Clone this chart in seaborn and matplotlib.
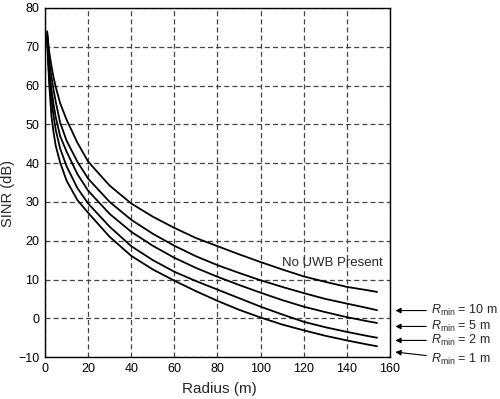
import numpy as np
import pandas as pd
import matplotlib
matplotlib.use("Agg")
import matplotlib.pyplot as plt
import seaborn as sns

# ==========================================
# Data
# ==========================================
radius = [1, 1.5, 2, 3, 4, 5, 7, 10, 15, 20, 30, 40, 50, 60, 70, 80, 90, 100,
          110, 120, 130, 140, 150, 154]

sinr_no_uwb = [74.0, 71.0, 68.5, 65.0, 62.0, 59.6, 55.5, 51.2, 45.3, 40.4, 34.2, 29.6,
               26.2, 23.3, 20.7, 18.6, 16.5, 14.5, 12.6, 10.8, 9.4, 8.1, 7.2, 6.8]
sinr_rmin_10 = [73.5, 69.5, 66.0, 62.2, 58.8, 55.8, 50.5, 45.8, 40.4, 36.0, 30.0, 25.4,
                21.8, 18.7, 16.0, 13.7, 11.7, 9.8, 8.1, 6.5, 5.0, 3.8, 2.6, 2.1]
sinr_rmin_5 = [73.0, 68.0, 63.5, 59.0, 55.0, 51.8, 47.0, 43.0, 37.2, 32.9, 26.9, 22.3,
               18.7, 15.6, 13.0, 10.7, 8.6, 6.6, 4.7, 3.0, 1.6, 0.3, -0.8, -1.2]
sinr_rmin_2 = [72.5, 66.5, 61.5, 56.5, 52.0, 48.5, 43.8, 39.2, 33.6, 29.6, 23.6, 18.6,
               15.0, 12.0, 9.6, 7.4, 5.2, 3.0, 1.0, -0.9, -2.3, -3.5, -4.6, -5.0]
sinr_rmin_1 = [72.0, 65.5, 60.0, 52.0, 47.8, 44.4, 40.2, 35.5, 30.5, 27.2, 21.0, 16.1,
               12.6, 9.7, 7.0, 4.5, 2.2, 0.2, -1.6, -3.1, -4.5, -5.7, -6.8, -7.2]

series_names = ["none", "10", "5", "2", "1"]
rmin_labels = ["10", "5", "2", "1"]
x_ticks = list(range(0, 161, 20))
y_ticks = list(range(-10, 81, 10))

df = pd.concat([
    pd.DataFrame({"Radius": radius, "SINR": vals, "case": name})
    for name, vals in zip(series_names,
                          [sinr_no_uwb, sinr_rmin_10, sinr_rmin_5, sinr_rmin_2, sinr_rmin_1])
], ignore_index=True)

# ==========================================
# Style
# ==========================================
sns.set_style("ticks")
plt.rcParams['font.family'] = ['Liberation Sans', 'DejaVu Sans']
plt.rcParams['mathtext.fontset'] = 'custom'
plt.rcParams['mathtext.rm'] = 'Liberation Sans'
plt.rcParams['mathtext.it'] = 'Liberation Sans:italic'

fig = plt.figure(figsize=(5.0, 3.99), dpi=100)
ax = fig.add_axes([0.09, 0.105, 0.69, 0.875])

sns.lineplot(data=df, x="Radius", y="SINR", hue="case", units="case",
             estimator=None, palette={n: "black" for n in series_names},
             linewidth=1.3, legend=False, ax=ax)

ax.set_xlim(0, 160)
ax.set_ylim(-10, 80)
ax.set_xticks(x_ticks)
ax.set_yticks(y_ticks)
ax.tick_params(length=0, pad=4, labelsize=9, colors="black")
ax.grid(True, color="#444444", linestyle=(0, (4, 2.5)), linewidth=0.9)
for sp in ax.spines.values():
    sp.set_color("black")
    sp.set_linewidth(1.0)

ax.set_xlabel("Radius (m)", fontsize=11)
ax.set_ylabel("SINR (dB)", fontsize=10.5)
ax.xaxis.set_label_coords(0.505, -0.072)
ax.yaxis.set_label_coords(-0.088, 0.47)

ax.text(110, 14.3, "No UWB Present", fontsize=9.5, ha="left", va="center")

# arrows pointing to the curve ends, labels outside the axes
arrow_heads = [2.0, -2.1, -5.7, -8.7]
label_ys = [2.0, -2.1, -5.7, -10.6]
for lab, yh, yt in zip(rmin_labels, arrow_heads, label_ys):
    ax.annotate(r"$R_{\rm min}$ = " + lab + " m", xy=(162.5, yh), xytext=(179, yt),
                fontsize=9, ha="left", va="center", annotation_clip=False,
                arrowprops=dict(arrowstyle="-|>", color="black", lw=0.8,
                                shrinkA=1, shrinkB=0, mutation_scale=8))

fig.savefig("out.png", dpi=100)
